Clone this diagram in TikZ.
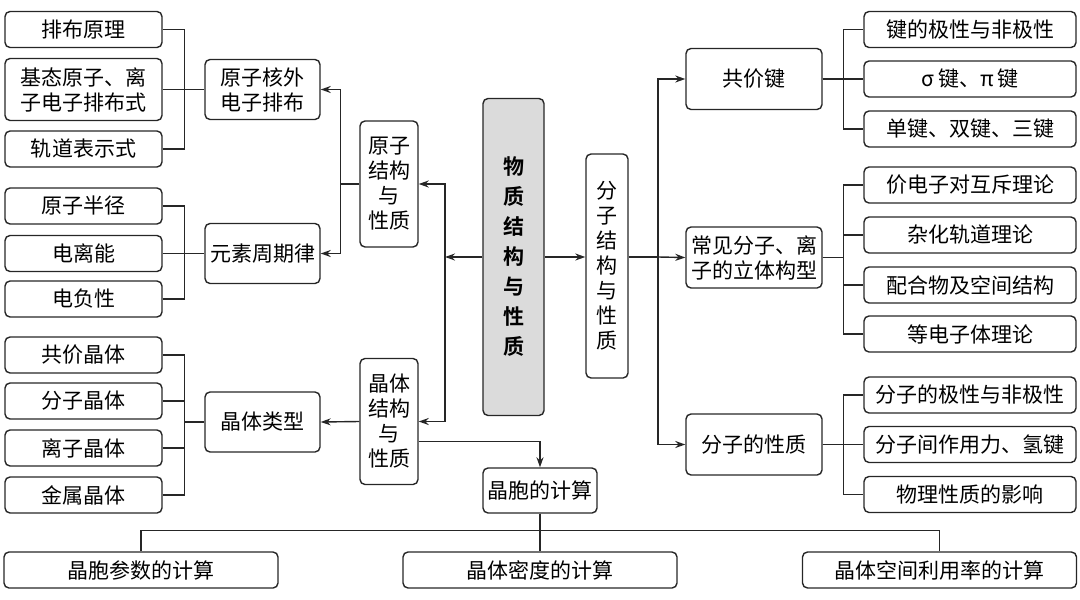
\documentclass[tikz,border=0pt]{standalone}
\usepackage{fontspec}
\setmainfont{Noto Sans CJK SC}[BoldFont={Noto Sans CJK SC Bold}]
\usetikzlibrary{arrows.meta}
\begin{document}
\begin{tikzpicture}[x=0.5pt,y=-0.5pt,
    box/.style={draw=black!85,line width=0.7pt,rounded corners=2.5pt,align=center,
      inner sep=0pt,font=\fontsize{10.5}{12.5}\selectfont},
    leaf/.style={box,minimum width=78.5pt,minimum height=18pt},
    mid/.style={box,minimum width=57.5pt,minimum height=30pt},
    rleaf/.style={box,minimum width=106pt,minimum height=18pt},
    rmid/.style={box,minimum width=68pt,minimum height=30.5pt},
    tall/.style={box,minimum width=29pt,minimum height=63pt},
    calc/.style={box,minimum width=137pt,minimum height=18pt},
    >={Stealth[length=5pt,width=3.5pt]}]
  \useasboundingbox (0,0) rectangle (1080,599);
  % left side
  \draw
    (83.5,29.5) node[leaf] (pai){排布原理}
    (83.5,89.5) node[leaf,minimum height=31pt] (jitai){基态原子、离\\子电子排布式}
    (83.5,149) node[leaf] (guidao){轨道表示式}
    (83.5,206) node[leaf] (banjing){原子半径}
    (83.5,253.5) node[leaf] (dianli){电离能}
    (83.5,299) node[leaf] (fuxing){电负性}
    (83.5,355) node[leaf] (gongjiaJ){共价晶体}
    (83.5,401) node[leaf] (fenziJ){分子晶体}
    (83.5,448) node[leaf] (liziJ){离子晶体}
    (83.5,495) node[leaf] (jinshuJ){金属晶体}
    (262.5,89.5) node[mid] (hewai){原子核外\\电子排布}
    (262.5,253.5) node[mid] (zhouqi){元素周期律}
    (262.5,422) node[mid] (leixing){晶体类型}
    (389,184) node[tall] (yuanzi){原子\\结构\\与\\性质}
    (389,421.5) node[tall] (jingti){晶体\\结构\\与\\性质};
  % centre
  \draw
    (513.5,257) node[box,fill=black!14,minimum width=30.5pt,minimum height=158.5pt,
      font=\fontsize{10.5}{15}\selectfont\bfseries] (wuzhi){物\\质\\结\\构\\与\\性\\质}
    (607,266) node[box,minimum width=21pt,minimum height=112pt] (fenzi){分\\子\\结\\构\\与\\性\\质}
    (540,490.5) node[box,minimum width=57pt,minimum height=22.5pt] (jingbao){晶胞的计算};
  % right side
  \draw
    (754,79) node[rmid] (gongjia){共价键}
    (754,257.5) node[rmid] (changjian){常见分子、离\\子的立体构型}
    (754,444.5) node[rmid] (xingzhi){分子的性质}
    (970,29.5) node[rleaf] (jixing){键的极性与非极性}
    (970,79) node[rleaf] (sigma){σ\,键、π\,键}
    (970,129) node[rleaf] (danjian){单键、双键、三键}
    (970,185) node[rleaf] (huchi){价电子对互斥理论}
    (970,235) node[rleaf] (zahua){杂化轨道理论}
    (970,285) node[rleaf] (peihe){配合物及空间结构}
    (970,334) node[rleaf] (dengdian){等电子体理论}
    (970,395) node[rleaf] (fjixing){分子的极性与非极性}
    (970,444.5) node[rleaf] (qingjian){分子间作用力、氢键}
    (970,494.5) node[rleaf] (wuli){物理性质的影响};
  % bottom
  \draw
    (141,570) node[calc] (canshu){晶胞参数的计算}
    (540,570) node[calc] (midu){晶体密度的计算}
    (939.5,570) node[calc] (liyong){晶体空间利用率的计算};
  \coordinate (jL) at (445,257);
  \coordinate (jR) at (658,257);
  \begin{scope}[-,draw=black!85,line width=0.7pt]
    \draw (pai.east) -- +(22,0) |- (hewai.west);
    \draw (jitai.east) -- (hewai.west);
    \draw (guidao.east) -- +(22,0) |- (hewai.west);
    \draw (banjing.east) -- +(22,0) |- (zhouqi.west);
    \draw (dianli.east) -- (zhouqi.west);
    \draw (fuxing.east) -- +(22,0) |- (zhouqi.west);
    \draw (gongjiaJ.east) -- +(22,0) |- (leixing.west);
    \draw (fenziJ.east) -- +(22,0) |- (leixing.west);
    \draw (liziJ.east) -- +(22,0) |- (leixing.west);
    \draw (jinshuJ.east) -- +(22,0) |- (leixing.west);
    \draw (gongjia.east) -- +(21,0) |- (jixing.west);
    \draw (gongjia.east) -- (sigma.west);
    \draw (gongjia.east) -- +(21,0) |- (danjian.west);
    \draw (changjian.east) -- +(21,0) |- (huchi.west);
    \draw (changjian.east) -- +(21,0) |- (zahua.west);
    \draw (changjian.east) -- +(21,0) |- (peihe.west);
    \draw (changjian.east) -- +(21,0) |- (dengdian.west);
    \draw (xingzhi.east) -- +(21,0) |- (fjixing.west);
    \draw (xingzhi.east) -- (qingjian.west);
    \draw (xingzhi.east) -- +(21,0) |- (wuli.west);
    \draw (fenzi.east |- jR) -- (jR);
    \draw (jingbao.south) -- (midu.north);
    \draw (jingbao.south) -- +(0,17) -| (canshu.north);
    \draw (jingbao.south) -- +(0,17) -| (liyong.north);
  \end{scope}
  \begin{scope}[->,draw=black!85,line width=0.7pt]
    \draw (wuzhi.west) -- (jL);
    \draw (jL) |- (yuanzi.east);
    \draw (jL) |- (jingti.east);
    \draw (yuanzi.west) -- +(-19,0) |- (hewai.east);
    \draw (yuanzi.west) -- +(-19,0) |- (zhouqi.east);
    \draw (jingti.west) -- (leixing.east);
    \draw ([yshift=-10pt]jingti.east) -| (jingbao.north);
    \draw (wuzhi.east) -- (fenzi.west |- wuzhi.east);
    \draw (jR) |- (gongjia.west);
    \draw (jR) -- (changjian.west);
    \draw (jR) |- (xingzhi.west);
  \end{scope}
\end{tikzpicture}
\end{document}
